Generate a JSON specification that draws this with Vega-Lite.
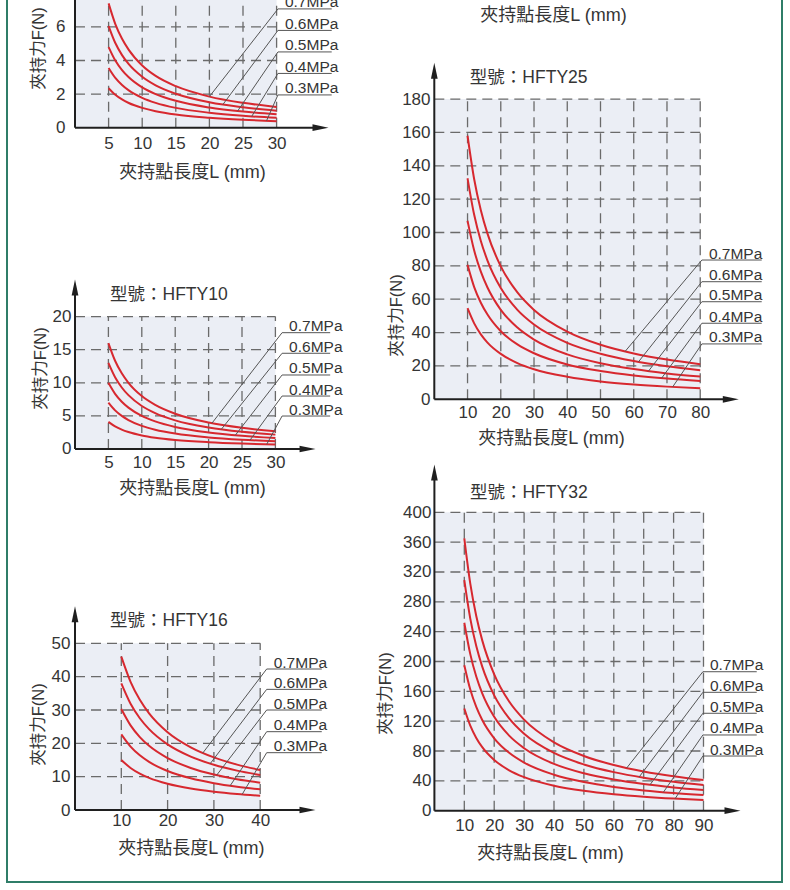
{
  "$schema": "https://vega.github.io/schema/vega-lite/v6.json",
  "width": 775,
  "height": 892,
  "autosize": {"type": "none"},
  "padding": {"left": 7, "top": -10, "right": 8, "bottom": 8},
  "background": "white",
  "config": {
    "view": {"stroke": "#2f7d68", "strokeWidth": 2},
    "axis": {
      "domain": false, "ticks": false, "tickSize": 0, "grid": false,
      "labelFont": "Liberation Sans", "labelFontSize": 17, "labelColor": "#353535",
      "labelOverlap": false, "labelFlush": false, "labelBound": false,
      "titleFont": "Liberation Sans, Noto Sans CJK TC", "titleFontWeight": "normal",
      "titleColor": "#353535", "titleAlign": "center", "titleBaseline": "middle"
    },
    "axisX": {"titleFontSize": 18},
    "axisY": {"titleFontSize": 16.5, "titleAngle": -90},
    "text": {"font": "Liberation Sans, Noto Sans CJK TC", "color": "#353535"}
  },
  "datasets": {
    "p6": [
      {"L": 5, "p07": 7.4, "p06": 6.05, "p05": 4.8, "p04": 3.55, "p03": 2.35},
      {"L": 6, "p07": 6.17, "p06": 5.04, "p05": 4.0, "p04": 2.96, "p03": 1.96},
      {"L": 7, "p07": 5.29, "p06": 4.32, "p05": 3.43, "p04": 2.54, "p03": 1.68},
      {"L": 8, "p07": 4.63, "p06": 3.78, "p05": 3.0, "p04": 2.22, "p03": 1.47},
      {"L": 10, "p07": 3.7, "p06": 3.03, "p05": 2.4, "p04": 1.78, "p03": 1.18},
      {"L": 12, "p07": 3.08, "p06": 2.52, "p05": 2.0, "p04": 1.48, "p03": 0.98},
      {"L": 15, "p07": 2.47, "p06": 2.02, "p05": 1.6, "p04": 1.18, "p03": 0.78},
      {"L": 20, "p07": 1.85, "p06": 1.51, "p05": 1.2, "p04": 0.89, "p03": 0.59},
      {"L": 25, "p07": 1.48, "p06": 1.21, "p05": 0.96, "p04": 0.71, "p03": 0.47},
      {"L": 30, "p07": 1.23, "p06": 1.01, "p05": 0.8, "p04": 0.59, "p03": 0.39}
    ],
    "p10": [
      {"L": 5, "p07": 16, "p06": 13, "p05": 10, "p04": 7, "p03": 4.1},
      {"L": 6, "p07": 13.33, "p06": 10.83, "p05": 8.33, "p04": 5.83, "p03": 3.42},
      {"L": 7, "p07": 11.43, "p06": 9.29, "p05": 7.14, "p04": 5, "p03": 2.93},
      {"L": 8, "p07": 10, "p06": 8.13, "p05": 6.25, "p04": 4.38, "p03": 2.56},
      {"L": 10, "p07": 8, "p06": 6.5, "p05": 5, "p04": 3.5, "p03": 2.05},
      {"L": 12, "p07": 6.67, "p06": 5.42, "p05": 4.17, "p04": 2.92, "p03": 1.71},
      {"L": 15, "p07": 5.33, "p06": 4.33, "p05": 3.33, "p04": 2.33, "p03": 1.37},
      {"L": 20, "p07": 4, "p06": 3.25, "p05": 2.5, "p04": 1.75, "p03": 1.03},
      {"L": 25, "p07": 3.2, "p06": 2.6, "p05": 2, "p04": 1.4, "p03": 0.82},
      {"L": 30, "p07": 2.67, "p06": 2.17, "p05": 1.67, "p04": 1.17, "p03": 0.68}
    ],
    "p16": [
      {"L": 10, "p07": 46, "p06": 38, "p05": 30.3, "p04": 22.7, "p03": 15},
      {"L": 12, "p07": 38.45, "p06": 31.89, "p05": 25.39, "p04": 19.03, "p03": 12.62},
      {"L": 14, "p07": 33.05, "p06": 27.52, "p05": 21.88, "p04": 16.41, "p03": 10.92},
      {"L": 16, "p07": 29, "p06": 24.25, "p05": 19.25, "p04": 14.45, "p03": 9.65},
      {"L": 20, "p07": 23.33, "p06": 19.67, "p05": 15.57, "p04": 11.7, "p03": 7.87},
      {"L": 25, "p07": 18.8, "p06": 16, "p05": 12.62, "p04": 9.5, "p03": 6.44},
      {"L": 30, "p07": 15.78, "p06": 13.56, "p05": 10.65, "p04": 8.03, "p03": 5.49},
      {"L": 35, "p07": 13.62, "p06": 11.81, "p05": 9.25, "p04": 6.99, "p03": 4.81},
      {"L": 40, "p07": 12, "p06": 10.5, "p05": 8.2, "p04": 6.2, "p03": 4.3}
    ],
    "p25": [
      {"L": 10, "p07": 158, "p06": 132.5, "p05": 107, "p04": 80.6, "p03": 54.6},
      {"L": 12, "p07": 131.9, "p06": 110.6, "p05": 89.2, "p04": 67.3, "p03": 45.5},
      {"L": 14, "p07": 113.3, "p06": 94.9, "p05": 76.5, "p04": 57.9, "p03": 38.9},
      {"L": 16, "p07": 99.3, "p06": 83.2, "p05": 67.0, "p04": 50.8, "p03": 34.0},
      {"L": 20, "p07": 79.7, "p06": 66.7, "p05": 53.6, "p04": 40.8, "p03": 27.2},
      {"L": 25, "p07": 64.1, "p06": 53.6, "p05": 43.0, "p04": 32.9, "p03": 21.7},
      {"L": 30, "p07": 53.6, "p06": 44.8, "p05": 35.8, "p04": 27.6, "p03": 18.0},
      {"L": 40, "p07": 40.6, "p06": 33.8, "p05": 26.9, "p04": 20.9, "p03": 13.5},
      {"L": 50, "p07": 32.7, "p06": 27.3, "p05": 21.6, "p04": 17.0, "p03": 10.7},
      {"L": 60, "p07": 27.5, "p06": 22.9, "p05": 18.1, "p04": 14.3, "p03": 8.9},
      {"L": 70, "p07": 23.8, "p06": 19.8, "p05": 15.5, "p04": 12.4, "p03": 7.6},
      {"L": 80, "p07": 21.0, "p06": 17.4, "p05": 13.6, "p04": 11.0, "p03": 6.6}
    ],
    "p32": [
      {"L": 10, "p07": 365, "p06": 309, "p05": 252, "p04": 195, "p03": 137},
      {"L": 12, "p07": 304.3, "p06": 257.5, "p05": 209.9, "p04": 162.4, "p03": 114},
      {"L": 14, "p07": 260.9, "p06": 220.8, "p05": 179.9, "p04": 139.1, "p03": 97.6},
      {"L": 16, "p07": 228.3, "p06": 193.2, "p05": 157.4, "p04": 121.6, "p03": 85.2},
      {"L": 20, "p07": 182.8, "p06": 154.6, "p05": 125.8, "p04": 97.1, "p03": 68},
      {"L": 25, "p07": 146.3, "p06": 123.7, "p05": 100.6, "p04": 77.6, "p03": 54.2},
      {"L": 30, "p07": 122, "p06": 103.1, "p05": 83.8, "p04": 64.5, "p03": 45},
      {"L": 40, "p07": 91.6, "p06": 77.4, "p05": 62.7, "p04": 48.2, "p03": 33.5},
      {"L": 50, "p07": 73.4, "p06": 62, "p05": 50.1, "p04": 38.4, "p03": 26.6},
      {"L": 60, "p07": 61.3, "p06": 51.7, "p05": 41.7, "p04": 31.9, "p03": 22},
      {"L": 70, "p07": 52.6, "p06": 44.3, "p05": 35.7, "p04": 27.2, "p03": 18.7},
      {"L": 80, "p07": 46.1, "p06": 38.8, "p05": 31.2, "p04": 23.7, "p03": 16.2},
      {"L": 90, "p07": 41, "p06": 34.5, "p05": 27.7, "p04": 21, "p03": 14.3}
    ],
    "a6": [
      {"p": "0.7MPa", "ex": 20.0, "ey": 1.85, "uy": 7.07},
      {"p": "0.6MPa", "ex": 22.0, "ey": 1.375, "uy": 5.79},
      {"p": "0.5MPa", "ex": 24.2, "ey": 0.99, "uy": 4.51},
      {"p": "0.4MPa", "ex": 26.3, "ey": 0.675, "uy": 3.23},
      {"p": "0.3MPa", "ex": 28.5, "ey": 0.41, "uy": 1.95}
    ],
    "a10": [
      {"p": "0.7MPa", "ex": 20.5, "ey": 3.9, "uy": 17.57},
      {"p": "0.6MPa", "ex": 21.9, "ey": 2.97, "uy": 14.46},
      {"p": "0.5MPa", "ex": 24.0, "ey": 2.08, "uy": 11.18},
      {"p": "0.4MPa", "ex": 26.2, "ey": 1.34, "uy": 8.0},
      {"p": "0.3MPa", "ex": 28.7, "ey": 0.71, "uy": 4.98}
    ],
    "a16": [
      {"p": "0.7MPa", "ex": 27.6, "ey": 17.1, "uy": 42.3},
      {"p": "0.6MPa", "ex": 29.2, "ey": 13.9, "uy": 36.2},
      {"p": "0.5MPa", "ex": 30.6, "ey": 10.46, "uy": 30.0},
      {"p": "0.4MPa", "ex": 33.5, "ey": 7.27, "uy": 23.5},
      {"p": "0.3MPa", "ex": 36.1, "ey": 4.68, "uy": 17.2}
    ],
    "a25": [
      {"p": "0.7MPa", "ex": 57.4, "ey": 28.7, "uy": 83.5},
      {"p": "0.6MPa", "ex": 61.4, "ey": 22.4, "uy": 70.5},
      {"p": "0.5MPa", "ex": 64.4, "ey": 16.8, "uy": 58.5},
      {"p": "0.4MPa", "ex": 68.4, "ey": 12.7, "uy": 45.6},
      {"p": "0.3MPa", "ex": 71.7, "ey": 7.4, "uy": 33.2}
    ],
    "a32": [
      {"p": "0.7MPa", "ex": 64.3, "ey": 57.2, "uy": 186.3},
      {"p": "0.6MPa", "ex": 68.5, "ey": 45.3, "uy": 158.7},
      {"p": "0.5MPa", "ex": 72.1, "ey": 34.7, "uy": 130.6},
      {"p": "0.4MPa", "ex": 76.6, "ey": 24.8, "uy": 101.5},
      {"p": "0.3MPa", "ex": 80.5, "ey": 16.1, "uy": 73.3}
    ]
  },
  "layer": [
    {
      "layer": [
        {
          "data": {"values": [{}]},
          "mark": {"type": "rect", "color": "#ebeef5"},
          "encoding": {
            "x": {"datum": 0, "type": "quantitative", "scale": {"domain": [-10.119, 105.208], "nice": false, "zero": false},
              "axis": {"orient": "bottom", "offset": -754.3, "values": [5, 10, 15, 20, 25, 30], "labelPadding": 8.2, "title": "夾持點長度L (mm)", "titleX": 185, "titleY": 44.8}},
            "x2": {"datum": 30},
            "y": {"datum": 0, "type": "quantitative", "scale": {"domain": [-44.899, 8.196], "nice": false, "zero": false},
              "axis": {"orient": "left", "offset": -68, "values": [0, 2, 4, 6, 8], "labelPadding": 10, "title": "夾持力F(N)", "titleX": -37, "titleY": 58}},
            "y2": {"datum": 8}
          }
        },
        {
          "data": {"values": [{"g": 5}, {"g": 10}, {"g": 15}, {"g": 20}, {"g": 25}, {"g": 30}]},
          "mark": {"type": "rule", "color": "#6a6a6a", "strokeWidth": 1.3, "strokeDash": [10, 6]},
          "encoding": {"x": {"field": "g", "type": "quantitative"}, "y": {"datum": 0}, "y2": {"datum": 8}}
        },
        {
          "data": {"values": [{"g": 2}, {"g": 4}, {"g": 6}, {"g": 8}]},
          "mark": {"type": "rule", "color": "#6a6a6a", "strokeWidth": 1.3, "strokeDash": [10, 6]},
          "encoding": {"y": {"field": "g", "type": "quantitative"}, "x": {"datum": 0}, "x2": {"datum": 30}}
        },
        {
          "data": {"values": [{}]},
          "mark": {"type": "rule", "color": "#1f1f1f", "strokeWidth": 2},
          "encoding": {"x": {"datum": 0}, "x2": {"datum": 36.53}, "y": {"datum": 0}}
        },
        {
          "data": {"values": [{}]},
          "mark": {"type": "rule", "color": "#1f1f1f", "strokeWidth": 2},
          "encoding": {"x": {"datum": 0}, "y": {"datum": 0}, "y2": {"datum": 10}}
        },
        {
          "data": {"values": [{}]},
          "mark": {"type": "point", "shape": "M1,0L-1,-0.42L-1,0.42Z", "size": 256, "filled": true, "color": "#1f1f1f", "opacity": 1},
          "encoding": {"x": {"datum": 36.53}, "y": {"datum": 0}}
        },
        {
          "data": {"name": "p6"},
          "transform": [{"fold": ["p07", "p06", "p05", "p04", "p03"], "as": ["MPa", "F"]}],
          "mark": {"type": "line", "color": "#d7282f", "strokeWidth": 2, "interpolate": "monotone"},
          "encoding": {"x": {"field": "L", "type": "quantitative"}, "y": {"field": "F", "type": "quantitative"}, "detail": {"field": "MPa", "type": "nominal"}}
        },
        {
          "data": {"name": "a6"},
          "layer": [
            {"mark": {"type": "rule", "color": "#555555", "strokeWidth": 1},
             "encoding": {"x": {"field": "ex", "type": "quantitative"}, "y": {"field": "ey", "type": "quantitative"}, "x2": {"datum": 30.2}, "y2": {"field": "uy"}}},
            {"mark": {"type": "rule", "color": "#555555", "strokeWidth": 1},
             "encoding": {"x": {"datum": 30.2}, "x2": {"datum": 38.2}, "y": {"field": "uy", "type": "quantitative"}}},
            {"mark": {"type": "text", "align": "left", "baseline": "alphabetic", "dx": 7, "dy": -1.5, "fontSize": 15.5},
             "encoding": {"x": {"datum": 30.2}, "y": {"field": "uy", "type": "quantitative"}, "text": {"field": "p"}}}
          ]
        }
      ]
    },
    {
      "layer": [
        {
          "data": {"values": [{}]},
          "mark": {"type": "rect", "color": "#ebeef5"},
          "encoding": {
            "x": {"datum": 0, "type": "quantitative", "scale": {"domain": [-10.180, 105.838], "nice": false, "zero": false},
              "axis": {"orient": "bottom", "offset": -433, "values": [5, 10, 15, 20, 25, 30], "labelPadding": 5.3, "title": "夾持點長度L (mm)", "titleX": 185, "titleY": 39}},
            "x2": {"datum": 30},
            "y": {"datum": 0, "type": "quantitative", "scale": {"domain": [-65.408, 69.335], "nice": false, "zero": false},
              "axis": {"orient": "left", "offset": -68, "values": [0, 5, 10, 15, 20], "labelPadding": 4, "title": "夾持力F(N)", "titleX": -35, "titleY": 378}},
            "y2": {"datum": 20}
          }
        },
        {
          "data": {"values": [{"g": 5}, {"g": 10}, {"g": 15}, {"g": 20}, {"g": 25}, {"g": 30}]},
          "mark": {"type": "rule", "color": "#6a6a6a", "strokeWidth": 1.3, "strokeDash": [10, 6]},
          "encoding": {"x": {"field": "g", "type": "quantitative"}, "y": {"datum": 0}, "y2": {"datum": 20}}
        },
        {
          "data": {"values": [{"g": 5}, {"g": 10}, {"g": 15}, {"g": 20}]},
          "mark": {"type": "rule", "color": "#6a6a6a", "strokeWidth": 1.3, "strokeDash": [10, 6]},
          "encoding": {"y": {"field": "g", "type": "quantitative"}, "x": {"datum": 0}, "x2": {"datum": 30}}
        },
        {
          "data": {"values": [{}]},
          "mark": {"type": "rule", "color": "#1f1f1f", "strokeWidth": 2},
          "encoding": {"x": {"datum": 0}, "x2": {"datum": 34.81}, "y": {"datum": 0}}
        },
        {
          "data": {"values": [{}]},
          "mark": {"type": "rule", "color": "#1f1f1f", "strokeWidth": 2},
          "encoding": {"x": {"datum": 0}, "y": {"datum": 0}, "y2": {"datum": 24.4}}
        },
        {
          "data": {"values": [{}]},
          "mark": {"type": "point", "shape": "M1,0L-1,-0.42L-1,0.42Z", "size": 256, "filled": true, "color": "#1f1f1f", "opacity": 1},
          "encoding": {"x": {"datum": 34.81}, "y": {"datum": 0}}
        },
        {
          "data": {"values": [{}]},
          "mark": {"type": "point", "shape": "M0,-1L-0.42,1L0.42,1Z", "size": 256, "filled": true, "color": "#1f1f1f", "opacity": 1},
          "encoding": {"x": {"datum": 0}, "y": {"datum": 24.4}}
        },
        {
          "data": {"name": "p10"},
          "transform": [{"fold": ["p07", "p06", "p05", "p04", "p03"], "as": ["MPa", "F"]}],
          "mark": {"type": "line", "color": "#d7282f", "strokeWidth": 2, "interpolate": "monotone"},
          "encoding": {"x": {"field": "L", "type": "quantitative"}, "y": {"field": "F", "type": "quantitative"}, "detail": {"field": "MPa", "type": "nominal"}}
        },
        {
          "data": {"name": "a10"},
          "layer": [
            {"mark": {"type": "rule", "color": "#555555", "strokeWidth": 1},
             "encoding": {"x": {"field": "ex", "type": "quantitative"}, "y": {"field": "ey", "type": "quantitative"}, "x2": {"datum": 31.0}, "y2": {"field": "uy"}}},
            {"mark": {"type": "rule", "color": "#555555", "strokeWidth": 1},
             "encoding": {"x": {"datum": 31.0}, "x2": {"datum": 38.2}, "y": {"field": "uy", "type": "quantitative"}}},
            {"mark": {"type": "text", "align": "left", "baseline": "alphabetic", "dx": 7, "dy": -1.5, "fontSize": 15.5},
             "encoding": {"x": {"datum": 31.0}, "y": {"field": "uy", "type": "quantitative"}, "text": {"field": "p"}}}
          ]
        },
        {
          "data": {"values": [{}]},
          "mark": {"type": "text", "align": "left", "baseline": "middle", "fontSize": 17.5, "text": "型號：HFTY10"},
          "encoding": {"x": {"datum": 5.24}, "y": {"datum": 23.26}}
        }
      ]
    },
    {
      "layer": [
        {
          "data": {"values": [{}]},
          "mark": {"type": "rect", "color": "#ebeef5"},
          "encoding": {
            "x": {"datum": 0, "type": "quantitative", "scale": {"domain": [-14.687, 152.700], "nice": false, "zero": false},
              "axis": {"orient": "bottom", "offset": -72, "values": [10, 20, 30, 40], "labelPadding": 2.6, "title": "夾持點長度L (mm)", "titleX": 183.8, "titleY": 38.3}},
            "x2": {"datum": 40},
            "y": {"datum": 0, "type": "quantitative", "scale": {"domain": [-21.602, 246.025], "nice": false, "zero": false},
              "axis": {"orient": "left", "offset": -68, "values": [0, 10, 20, 30, 40, 50], "labelPadding": 5, "title": "夾持力F(N)", "titleX": -37, "titleY": 734}},
            "y2": {"datum": 50}
          }
        },
        {
          "data": {"values": [{"g": 10}, {"g": 20}, {"g": 30}, {"g": 40}]},
          "mark": {"type": "rule", "color": "#6a6a6a", "strokeWidth": 1.3, "strokeDash": [10, 6]},
          "encoding": {"x": {"field": "g", "type": "quantitative"}, "y": {"datum": 0}, "y2": {"datum": 50}}
        },
        {
          "data": {"values": [{"g": 10}, {"g": 20}, {"g": 30}, {"g": 40}, {"g": 50}]},
          "mark": {"type": "rule", "color": "#6a6a6a", "strokeWidth": 1.3, "strokeDash": [10, 6]},
          "encoding": {"y": {"field": "g", "type": "quantitative"}, "x": {"datum": 0}, "x2": {"datum": 40}}
        },
        {
          "data": {"values": [{}]},
          "mark": {"type": "rule", "color": "#1f1f1f", "strokeWidth": 2},
          "encoding": {"x": {"datum": 0}, "x2": {"datum": 50.22}, "y": {"datum": 0}}
        },
        {
          "data": {"values": [{}]},
          "mark": {"type": "rule", "color": "#1f1f1f", "strokeWidth": 2},
          "encoding": {"x": {"datum": 0}, "y": {"datum": 0}, "y2": {"datum": 58.75}}
        },
        {
          "data": {"values": [{}]},
          "mark": {"type": "point", "shape": "M1,0L-1,-0.42L-1,0.42Z", "size": 256, "filled": true, "color": "#1f1f1f", "opacity": 1},
          "encoding": {"x": {"datum": 50.22}, "y": {"datum": 0}}
        },
        {
          "data": {"values": [{}]},
          "mark": {"type": "point", "shape": "M0,-1L-0.42,1L0.42,1Z", "size": 256, "filled": true, "color": "#1f1f1f", "opacity": 1},
          "encoding": {"x": {"datum": 0}, "y": {"datum": 58.75}}
        },
        {
          "data": {"name": "p16"},
          "transform": [{"fold": ["p07", "p06", "p05", "p04", "p03"], "as": ["MPa", "F"]}],
          "mark": {"type": "line", "color": "#d7282f", "strokeWidth": 2, "interpolate": "monotone"},
          "encoding": {"x": {"field": "L", "type": "quantitative"}, "y": {"field": "F", "type": "quantitative"}, "detail": {"field": "MPa", "type": "nominal"}}
        },
        {
          "data": {"name": "a16"},
          "layer": [
            {"mark": {"type": "rule", "color": "#555555", "strokeWidth": 1},
             "encoding": {"x": {"field": "ex", "type": "quantitative"}, "y": {"field": "ey", "type": "quantitative"}, "x2": {"datum": 41.4}, "y2": {"field": "uy"}}},
            {"mark": {"type": "rule", "color": "#555555", "strokeWidth": 1},
             "encoding": {"x": {"datum": 41.4}, "x2": {"datum": 53.3}, "y": {"field": "uy", "type": "quantitative"}}},
            {"mark": {"type": "text", "align": "left", "baseline": "alphabetic", "dx": 7, "dy": -1.5, "fontSize": 15.5},
             "encoding": {"x": {"datum": 41.4}, "y": {"field": "uy", "type": "quantitative"}, "text": {"field": "p"}}}
          ]
        },
        {
          "data": {"values": [{}]},
          "mark": {"type": "text", "align": "left", "baseline": "middle", "fontSize": 17.5, "text": "型號：HFTY16"},
          "encoding": {"x": {"datum": 7.56}, "y": {"datum": 56.8}}
        }
      ]
    },
    {
      "layer": [
        {
          "data": {"values": [{}]},
          "mark": {"type": "rect", "color": "#ebeef5"},
          "encoding": {
            "x": {"datum": 0, "type": "quantitative", "scale": {"domain": [-128.550, 104.603], "nice": false, "zero": false},
              "axis": {"orient": "bottom", "offset": -906, "values": [10, 20, 30, 40, 50, 60, 70, 80], "labels": false, "title": "夾持點長度L (mm)", "titleX": 546, "titleY": 39}},
            "x2": {"datum": 80},
            "y": {"datum": 0, "type": "quantitative", "scale": {"domain": [-543.17, -8.39], "nice": false, "zero": false}, "axis": null},
            "y2": {"datum": 180}
          }
        }
      ]
    },
    {
      "layer": [
        {
          "data": {"values": [{}]},
          "mark": {"type": "rect", "color": "#ebeef5"},
          "encoding": {
            "x": {"datum": 0, "type": "quantitative", "scale": {"domain": [-128.550, 104.603], "nice": false, "zero": false},
              "axis": {"orient": "bottom", "offset": -482.7, "values": [10, 20, 30, 40, 50, 60, 70, 80], "labelPadding": 5, "title": "夾持點長度L (mm)", "titleX": 544, "titleY": 38.7}},
            "x2": {"datum": 80},
            "y": {"datum": 0, "type": "quantitative", "scale": {"domain": [-289.388, 245.384], "nice": false, "zero": false},
              "axis": {"orient": "left", "offset": -427.3, "values": [0, 20, 40, 60, 80, 100, 120, 140, 160, 180], "labelPadding": 4.3, "title": "夾持力F(N)", "titleX": -37.6, "titleY": 325}},
            "y2": {"datum": 180}
          }
        },
        {
          "data": {"values": [{"g": 10}, {"g": 20}, {"g": 30}, {"g": 40}, {"g": 50}, {"g": 60}, {"g": 70}, {"g": 80}]},
          "mark": {"type": "rule", "color": "#6a6a6a", "strokeWidth": 1.3, "strokeDash": [10, 6]},
          "encoding": {"x": {"field": "g", "type": "quantitative"}, "y": {"datum": 0}, "y2": {"datum": 180}}
        },
        {
          "data": {"values": [{"g": 20}, {"g": 40}, {"g": 60}, {"g": 80}, {"g": 100}, {"g": 120}, {"g": 140}, {"g": 160}, {"g": 180}]},
          "mark": {"type": "rule", "color": "#6a6a6a", "strokeWidth": 1.3, "strokeDash": [10, 6]},
          "encoding": {"y": {"field": "g", "type": "quantitative"}, "x": {"datum": 0}, "x2": {"datum": 80}}
        },
        {
          "data": {"values": [{}]},
          "mark": {"type": "rule", "color": "#1f1f1f", "strokeWidth": 2},
          "encoding": {"x": {"datum": 0}, "x2": {"datum": 89.2}, "y": {"datum": 0}}
        },
        {
          "data": {"values": [{}]},
          "mark": {"type": "rule", "color": "#1f1f1f", "strokeWidth": 2},
          "encoding": {"x": {"datum": 0}, "y": {"datum": 0}, "y2": {"datum": 196.94}}
        },
        {
          "data": {"values": [{}]},
          "mark": {"type": "point", "shape": "M1,0L-1,-0.42L-1,0.42Z", "size": 256, "filled": true, "color": "#1f1f1f", "opacity": 1},
          "encoding": {"x": {"datum": 89.2}, "y": {"datum": 0}}
        },
        {
          "data": {"values": [{}]},
          "mark": {"type": "point", "shape": "M0,-1L-0.42,1L0.42,1Z", "size": 256, "filled": true, "color": "#1f1f1f", "opacity": 1},
          "encoding": {"x": {"datum": 0}, "y": {"datum": 196.94}}
        },
        {
          "data": {"name": "p25"},
          "transform": [{"fold": ["p07", "p06", "p05", "p04", "p03"], "as": ["MPa", "F"]}],
          "mark": {"type": "line", "color": "#d7282f", "strokeWidth": 2, "interpolate": "monotone"},
          "encoding": {"x": {"field": "L", "type": "quantitative"}, "y": {"field": "F", "type": "quantitative"}, "detail": {"field": "MPa", "type": "nominal"}}
        },
        {
          "data": {"name": "a25"},
          "layer": [
            {"mark": {"type": "rule", "color": "#555555", "strokeWidth": 1},
             "encoding": {"x": {"field": "ex", "type": "quantitative"}, "y": {"field": "ey", "type": "quantitative"}, "x2": {"datum": 80.5}, "y2": {"field": "uy"}}},
            {"mark": {"type": "rule", "color": "#555555", "strokeWidth": 1},
             "encoding": {"x": {"datum": 80.5}, "x2": {"datum": 98.5}, "y": {"field": "uy", "type": "quantitative"}}},
            {"mark": {"type": "text", "align": "left", "baseline": "alphabetic", "dx": 7, "dy": -1.5, "fontSize": 15.5},
             "encoding": {"x": {"datum": 80.5}, "y": {"field": "uy", "type": "quantitative"}, "text": {"field": "p"}}}
          ]
        },
        {
          "data": {"values": [{}]},
          "mark": {"type": "text", "align": "left", "baseline": "middle", "fontSize": 17.5, "text": "型號：HFTY25"},
          "encoding": {"x": {"datum": 10.7}, "y": {"datum": 192.4}}
        }
      ]
    },
    {
      "layer": [
        {
          "data": {"values": [{}]},
          "mark": {"type": "rect", "color": "#ebeef5"},
          "encoding": {
            "x": {"datum": 0, "type": "quantitative", "scale": {"domain": [-142.943, 116.254], "nice": false, "zero": false},
              "axis": {"orient": "bottom", "offset": -71.3, "values": [10, 20, 30, 40, 50, 60, 70, 80, 90], "labelPadding": 6.9, "title": "夾持點長度L (mm)", "titleX": 543, "titleY": 42.6}},
            "x2": {"datum": 90},
            "y": {"datum": 0, "type": "quantitative", "scale": {"domain": [-95.576, 1100.134], "nice": false, "zero": false},
              "axis": {"orient": "left", "offset": -427.4, "values": [0, 40, 80, 120, 160, 200, 240, 280, 320, 360, 400], "labelPadding": 3.5, "title": "夾持力F(N)", "titleX": -49.4, "titleY": 703}},
            "y2": {"datum": 400}
          }
        },
        {
          "data": {"values": [{"g": 10}, {"g": 20}, {"g": 30}, {"g": 40}, {"g": 50}, {"g": 60}, {"g": 70}, {"g": 80}, {"g": 90}]},
          "mark": {"type": "rule", "color": "#6a6a6a", "strokeWidth": 1.3, "strokeDash": [10, 6]},
          "encoding": {"x": {"field": "g", "type": "quantitative"}, "y": {"datum": 0}, "y2": {"datum": 400}}
        },
        {
          "data": {"values": [{"g": 40}, {"g": 80}, {"g": 120}, {"g": 160}, {"g": 200}, {"g": 240}, {"g": 280}, {"g": 320}, {"g": 360}, {"g": 400}]},
          "mark": {"type": "rule", "color": "#6a6a6a", "strokeWidth": 1.3, "strokeDash": [10, 6]},
          "encoding": {"y": {"field": "g", "type": "quantitative"}, "x": {"datum": 0}, "x2": {"datum": 90}}
        },
        {
          "data": {"values": [{}]},
          "mark": {"type": "rule", "color": "#1f1f1f", "strokeWidth": 2},
          "encoding": {"x": {"datum": 0}, "x2": {"datum": 99.7}, "y": {"datum": 0}}
        },
        {
          "data": {"values": [{}]},
          "mark": {"type": "rule", "color": "#1f1f1f", "strokeWidth": 2},
          "encoding": {"x": {"datum": 0}, "y": {"datum": 0}, "y2": {"datum": 453.35}}
        },
        {
          "data": {"values": [{}]},
          "mark": {"type": "point", "shape": "M1,0L-1,-0.42L-1,0.42Z", "size": 256, "filled": true, "color": "#1f1f1f", "opacity": 1},
          "encoding": {"x": {"datum": 99.7}, "y": {"datum": 0}}
        },
        {
          "data": {"values": [{}]},
          "mark": {"type": "point", "shape": "M0,-1L-0.42,1L0.42,1Z", "size": 256, "filled": true, "color": "#1f1f1f", "opacity": 1},
          "encoding": {"x": {"datum": 0}, "y": {"datum": 453.35}}
        },
        {
          "data": {"name": "p32"},
          "transform": [{"fold": ["p07", "p06", "p05", "p04", "p03"], "as": ["MPa", "F"]}],
          "mark": {"type": "line", "color": "#d7282f", "strokeWidth": 2, "interpolate": "monotone"},
          "encoding": {"x": {"field": "L", "type": "quantitative"}, "y": {"field": "F", "type": "quantitative"}, "detail": {"field": "MPa", "type": "nominal"}}
        },
        {
          "data": {"name": "a32"},
          "layer": [
            {"mark": {"type": "rule", "color": "#555555", "strokeWidth": 1},
             "encoding": {"x": {"field": "ex", "type": "quantitative"}, "y": {"field": "ey", "type": "quantitative"}, "x2": {"datum": 89.8}, "y2": {"field": "uy"}}},
            {"mark": {"type": "rule", "color": "#555555", "strokeWidth": 1},
             "encoding": {"x": {"datum": 89.8}, "x2": {"datum": 107.8}, "y": {"field": "uy", "type": "quantitative"}}},
            {"mark": {"type": "text", "align": "left", "baseline": "alphabetic", "dx": 7, "dy": -1.5, "fontSize": 15.5},
             "encoding": {"x": {"datum": 89.8}, "y": {"field": "uy", "type": "quantitative"}, "text": {"field": "p"}}}
          ]
        },
        {
          "data": {"values": [{}]},
          "mark": {"type": "text", "align": "left", "baseline": "middle", "fontSize": 17.5, "text": "型號：HFTY32"},
          "encoding": {"x": {"datum": 11.9}, "y": {"datum": 425.5}}
        }
      ]
    }
  ],
  "resolve": {"scale": {"x": "independent", "y": "independent"}, "axis": {"x": "independent", "y": "independent"}}
}
